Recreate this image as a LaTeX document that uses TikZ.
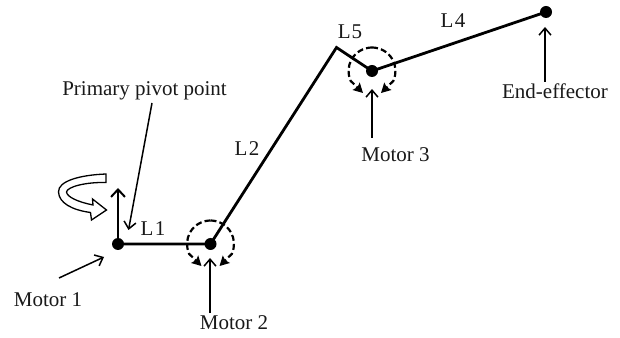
\documentclass[tikz,border=0pt]{standalone}
\usepackage{fontspec}
\setmainfont{Liberation Serif}
\usetikzlibrary{arrows.meta}
\tikzset{
  x=1pt,y=1pt,
  joint/.style={circle,fill=black,inner sep=0pt,minimum size=12pt},
  endjoint/.style={circle,fill=black,inner sep=0pt,minimum size=12pt},
  lbl/.style={inner sep=0pt,font=\fontsize{21}{23}\selectfont,text=black!90},
  linkbar/.style={line width=2.8pt,line join=miter},
  pointer/.style={line width=1.5pt,-{Straight Barb[length=7pt,width=12pt,line width=1.5pt]}},
  axisarrow/.style={line width=2.3pt,-{Straight Barb[length=7.5pt,width=14pt,line width=2pt]}},
  swing/.style={line width=2.2pt,dash pattern=on 6pt off 3.2pt,-{Stealth[length=9.5pt,width=10pt,inset=1.5pt]}},
  turn/.style={line width=1.3pt,fill=white,line join=miter},
}
\begin{document}
\begin{tikzpicture}
\useasboundingbox (0,0) rectangle (620,337);
% joints and coordinates (y = 337 - image y)
\node[joint] (m1) at (118,93) {};
\node[joint] (m2) at (210.5,93) {};
\node[joint] (m3) at (372,266) {};
\node[endjoint] (ee) at (546,325) {};
\coordinate (elbow) at (336.5,289.5);
% links
\draw[linkbar] (m1.center) -- (m2.center) -- (elbow) -- (m3.center) -- (ee.center);
% dashed rotation arcs
\draw[swing] (210.5,116.5) arc[start angle=90,end angle=-25,radius=23.5] -- +(-12.3,-12.1);
\draw[swing] (210.5,116.5) arc[start angle=90,end angle=205,radius=23.5] -- +(12.3,-12.1);
\draw[swing] (372,289.5) arc[start angle=90,end angle=-25,radius=23.5] -- +(-12.3,-12.1);
\draw[swing] (372,289.5) arc[start angle=90,end angle=205,radius=23.5] -- +(12.3,-12.1);
% axis arrow at motor 1
\coordinate (axistip) at (118,149);
\draw[axisarrow] (m1.center) -- (axistip);
% hollow rotation arrow
\draw[turn] (106,163) .. controls (80,162) and (58,156) .. (58.5,145)
  .. controls (59,134) and (72,127) .. (90.5,124.5)
  -- (91.5,117) -- (106.5,127) -- (92.5,138) -- (93,132)
  .. controls (78,135) and (67,140) .. (66.5,145)
  .. controls (67,150) and (85,155) .. (106,154.5) -- cycle;
% labels
\node[lbl] (pp) at (144.5,246) {Primary pivot point};
\node[lbl] (t1) at (48,37) {Motor 1};
\node[lbl] (t2) at (234,14) {Motor 2};
\node[lbl] (t3) at (395.5,182) {Motor 3};
\node[lbl] (t4) at (555,246) {End-effector};
\node[lbl] (l1) at (153,108) {L\kern1.5pt 1};
\node[lbl] (l2) at (247,188) {L\kern1.5pt 2};
\node[lbl] (l5) at (350,305) {L\kern1pt 5};
\node[lbl] (l4) at (453,316) {L\kern1.5pt 4};
% pointers
\coordinate (ppfrom) at (152,234);
\coordinate (pptip) at (128.5,107);
\draw[pointer] (ppfrom) -- (pptip);
\coordinate (m1from) at (59,59);
\coordinate (m1tip) at (104,80);
\draw[pointer] (m1from) -- (m1tip);
\coordinate (m2from) at (210,24);
\coordinate (m2tip) at (210,79);
\draw[pointer] (m2from) -- (m2tip);
\coordinate (m3from) at (372,199);
\coordinate (m3tip) at (372,248);
\draw[pointer] (m3from) -- (m3tip);
\coordinate (eefrom) at (545,255);
\coordinate (eetip) at (545,310);
\draw[pointer] (eefrom) -- (eetip);
\end{tikzpicture}
\end{document}
